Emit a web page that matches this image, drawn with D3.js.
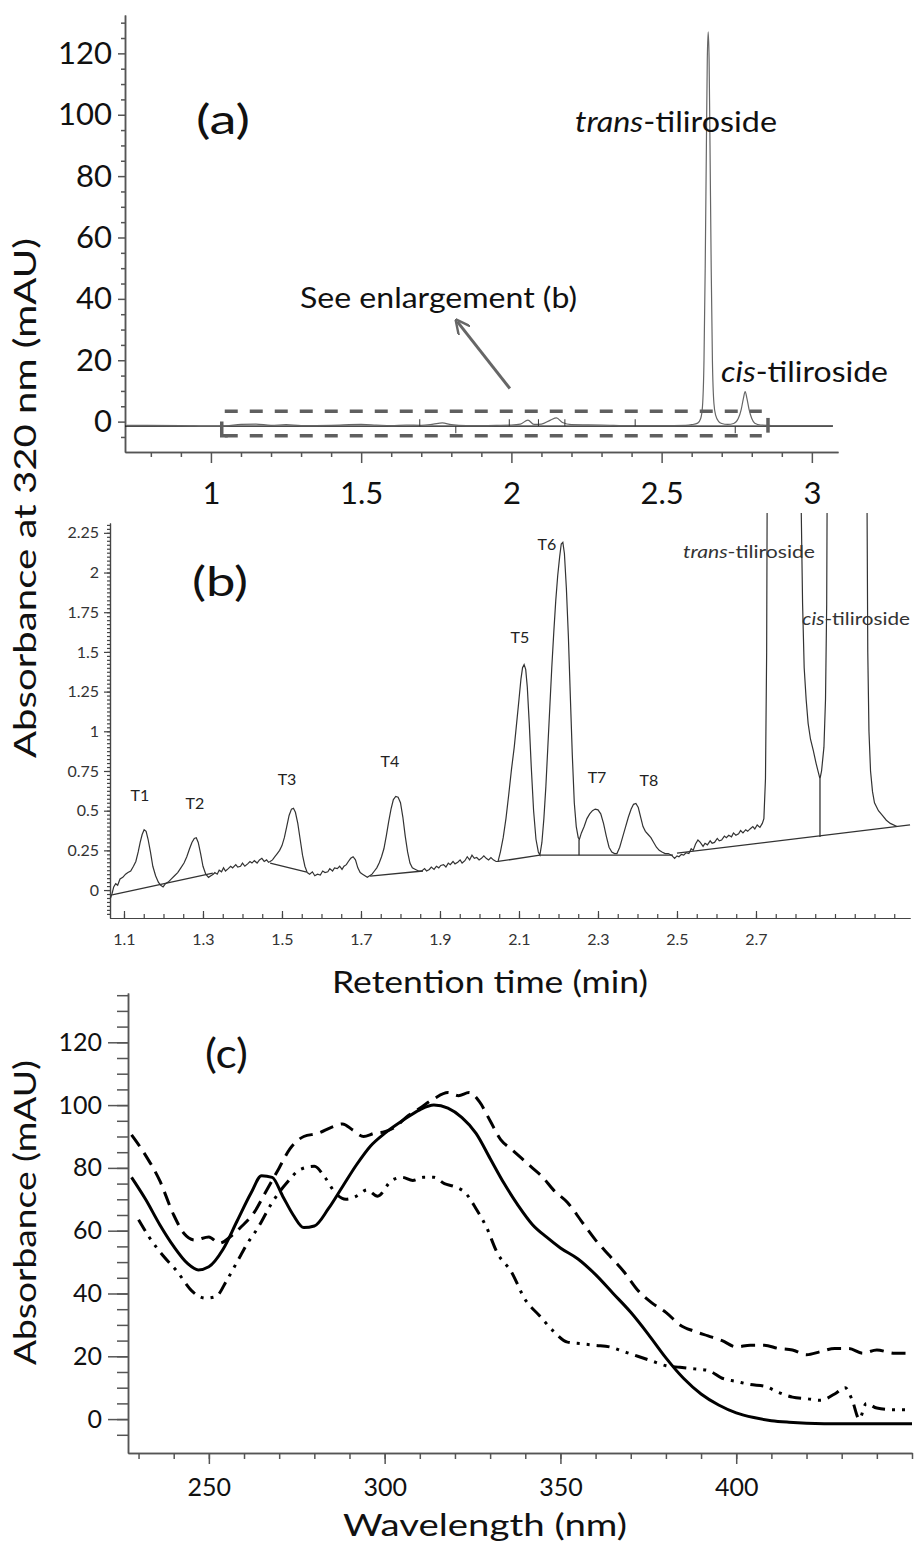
<!DOCTYPE html>
<html>
<head>
<meta charset="utf-8">
<script src="https://cdn.jsdelivr.net/npm/d3@7"></script>
<style>
  body { margin: 0; background: #fff; }
  text { font-family: Lato, "Open Sans", sans-serif; }
</style>
</head>
<body>
<div id="chart"></div>
<script>
// ---------- panel (a): full chromatogram ----------
const aTicksY = [0, 20, 40, 60, 80, 100, 120];
const aTicksX = [1, 1.5, 2, 2.5, 3];
const aTrace = [
  [0.72,-1.2],[0.9,-1.3],[1.0,-1.5],[1.05,-1.4],[1.1,-0.9],[1.15,-0.8],[1.2,-1.2],[1.25,-1.0],
  [1.3,-1.3],[1.4,-1.2],[1.5,-0.9],[1.55,-1.1],[1.6,-1.3],[1.65,-1.1],[1.7,-1.2],[1.74,-0.8],
  [1.77,-0.4],[1.8,-1.0],[1.85,-1.3],[1.95,-1.2],[2.0,-1.1],[2.03,-0.8],[2.055,0.5],[2.075,-0.9],
  [2.1,-0.8],[2.13,0.5],[2.15,1.2],[2.17,-0.3],[2.2,-1.0],[2.3,-1.1],[2.4,-1.3],[2.5,-1.3],
  [2.58,-1.2],[2.6,-1.0],[2.62,-0.5],[2.63,1],[2.636,5],[2.641,20],[2.645,50],[2.649,90],
  [2.652,118],[2.655,127],[2.658,118],[2.661,90],[2.665,50],[2.669,20],[2.674,6],[2.68,2],
  [2.69,0],[2.7,-0.6],[2.72,-0.9],[2.74,-0.6],[2.755,1],[2.765,4],[2.772,7.5],[2.778,9.8],
  [2.784,7.5],[2.791,4],[2.8,1],[2.81,-0.5],[2.83,-1.1],[2.9,-1.3],[3.07,-1.3]
];
const aBaseline = [[0.714,-1.5],[3.07,-1.5]];
const aMarks = [[1.695,1],[1.815,-1],[1.993,1],[2.09,1],[2.178,1],[2.412,1],[2.745,-1]];

// ---------- panel (b): enlargement ----------
const bTicksY = [0, 0.25, 0.5, 0.75, 1, 1.25, 1.5, 1.75, 2, 2.25];
const bTicksX = [1.1, 1.3, 1.5, 1.7, 1.9, 2.1, 2.3, 2.5, 2.7];
const bTrace = [
  [1.066,-0.05],[1.07,-0.02],[1.074,0.02],[1.079,0.04],[1.084,0.03],[1.09,0.07],[1.097,0.08],
  [1.104,0.1],[1.11,0.11],[1.117,0.12],[1.124,0.15],[1.13,0.18],[1.136,0.24],[1.141,0.3],
  [1.146,0.35],[1.151,0.38],[1.156,0.37],[1.161,0.32],[1.167,0.24],[1.173,0.15],[1.18,0.09],
  [1.187,0.05],[1.193,0.03],[1.199,0.02],[1.205,0.04],[1.212,0.05],[1.22,0.07],[1.228,0.09],
  [1.236,0.11],[1.244,0.14],[1.252,0.17],[1.259,0.21],[1.266,0.26],[1.272,0.3],[1.278,0.325],
  [1.283,0.33],[1.288,0.3],[1.294,0.23],[1.3,0.15],[1.307,0.1],[1.314,0.08],[1.32,0.09],
  [1.326,0.1],[1.33,0.11],[1.336,0.1],[1.341,0.125],[1.347,0.115],[1.352,0.14],[1.357,0.12],
  [1.364,0.135],[1.37,0.15],[1.375,0.14],[1.383,0.16],[1.388,0.145],[1.395,0.15],[1.4,0.17],
  [1.406,0.15],[1.413,0.165],[1.419,0.18],[1.424,0.17],[1.43,0.185],[1.437,0.17],[1.443,0.19],
  [1.449,0.2],[1.455,0.18],[1.461,0.19],[1.466,0.175],[1.47,0.18],[1.476,0.19],[1.482,0.21],
  [1.488,0.23],[1.494,0.25],[1.5,0.28],[1.506,0.33],[1.512,0.4],[1.518,0.47],[1.524,0.51],
  [1.529,0.515],[1.534,0.49],[1.54,0.42],[1.546,0.32],[1.552,0.22],[1.558,0.15],[1.564,0.11],
  [1.57,0.1],[1.577,0.115],[1.583,0.09],[1.59,0.1],[1.597,0.095],[1.603,0.12],[1.609,0.11],
  [1.616,0.115],[1.621,0.135],[1.628,0.12],[1.633,0.14],[1.64,0.135],[1.646,0.15],[1.652,0.13],
  [1.657,0.15],[1.663,0.16],[1.668,0.18],[1.674,0.2],[1.68,0.21],[1.686,0.19],[1.692,0.14],
  [1.698,0.11],[1.704,0.1],[1.71,0.09],[1.716,0.08],[1.722,0.09],[1.728,0.1],[1.734,0.12],
  [1.74,0.14],[1.746,0.17],[1.752,0.21],[1.758,0.26],[1.764,0.34],[1.77,0.43],[1.776,0.51],
  [1.782,0.57],[1.788,0.59],[1.794,0.585],[1.8,0.55],[1.806,0.46],[1.812,0.34],[1.818,0.24],
  [1.824,0.17],[1.83,0.14],[1.838,0.13],[1.846,0.12],[1.854,0.12],[1.861,0.135],[1.866,0.12],
  [1.873,0.13],[1.878,0.145],[1.885,0.13],[1.891,0.15],[1.897,0.14],[1.902,0.155],[1.909,0.16],
  [1.915,0.145],[1.921,0.17],[1.926,0.16],[1.933,0.18],[1.938,0.165],[1.945,0.175],[1.951,0.19],
  [1.956,0.17],[1.963,0.185],[1.969,0.21],[1.975,0.19],[1.981,0.22],[1.987,0.2],[1.993,0.205],
  [1.999,0.19],[2.005,0.2],[2.011,0.215],[2.017,0.2],[2.023,0.19],[2.029,0.205],[2.035,0.19],
  [2.042,0.18],[2.047,0.18],[2.053,0.24],[2.06,0.33],[2.067,0.45],[2.074,0.6],[2.081,0.76],
  [2.088,0.9],[2.094,1.05],[2.1,1.2],[2.105,1.33],[2.109,1.4],[2.113,1.42],[2.117,1.39],
  [2.121,1.28],[2.126,1.05],[2.131,0.78],[2.137,0.5],[2.143,0.32],[2.149,0.24],[2.153,0.22],
  [2.158,0.3],[2.163,0.45],[2.168,0.65],[2.173,0.9],[2.178,1.15],[2.183,1.4],[2.188,1.62],
  [2.193,1.82],[2.198,1.98],[2.203,2.1],[2.207,2.18],[2.211,2.19],[2.215,2.12],[2.22,1.9],
  [2.225,1.6],[2.23,1.22],[2.235,0.85],[2.24,0.55],[2.245,0.4],[2.25,0.33],[2.253,0.32],
  [2.258,0.36],[2.265,0.4],[2.272,0.45],[2.279,0.48],[2.286,0.5],[2.293,0.51],[2.3,0.505],
  [2.307,0.48],[2.314,0.42],[2.321,0.34],[2.328,0.27],[2.335,0.24],[2.342,0.23],[2.348,0.23],
  [2.355,0.27],[2.362,0.33],[2.37,0.4],[2.377,0.46],[2.384,0.51],[2.39,0.54],[2.396,0.545],
  [2.402,0.52],[2.408,0.46],[2.414,0.4],[2.42,0.37],[2.427,0.35],[2.434,0.33],[2.441,0.3],
  [2.448,0.27],[2.455,0.25],[2.462,0.24],[2.47,0.23],[2.478,0.23],[2.486,0.22],[2.494,0.2],
  [2.5,0.215],[2.505,0.21],[2.511,0.225],[2.517,0.22],[2.523,0.235],[2.53,0.23],[2.536,0.26],
  [2.541,0.25],[2.547,0.29],[2.553,0.315],[2.559,0.3],[2.566,0.275],[2.571,0.295],[2.577,0.285],
  [2.584,0.31],[2.589,0.295],[2.595,0.3],[2.602,0.325],[2.607,0.31],[2.613,0.315],[2.62,0.34],
  [2.625,0.33],[2.631,0.345],[2.638,0.335],[2.643,0.36],[2.649,0.345],[2.656,0.355],[2.661,0.375],
  [2.667,0.36],[2.674,0.38],[2.679,0.37],[2.685,0.385],[2.692,0.4],[2.697,0.385],[2.703,0.41],
  [2.71,0.395],[2.716,0.42],[2.72,0.45],[2.724,0.7],[2.727,1.5],[2.729,3.0],[2.731,6],
  [2.812,6],[2.8145,2.4],[2.818,1.8],[2.822,1.4],[2.827,1.2],[2.832,1.05],[2.838,0.95],
  [2.845,0.88],[2.852,0.8],[2.858,0.74],[2.862,0.7],[2.866,0.75],[2.872,0.9],[2.876,1.2],
  [2.879,1.8],[2.881,3],[2.883,6],[2.979,6],[2.981,2.5],[2.983,1.5],[2.986,1.0],[2.99,0.75],
  [2.995,0.62],[3.0,0.55],[3.01,0.5],[3.02,0.47],[3.03,0.44],[3.04,0.42],[3.057,0.4]
];
// integration baselines drawn by the instrument software
const bBaselines = [
  [[1.07,-0.03],[1.325,0.107]],
  [[1.47,0.17],[1.563,0.113]],
  [[1.723,0.088],[1.857,0.12]],
  [[2.047,0.18],[2.153,0.22]],
  [[2.153,0.22],[2.49,0.22]],
  [[2.252,0.22],[2.252,0.32]],
  [[2.5,0.233],[3.09,0.41]],
  [[2.862,0.334],[2.862,0.7]]
];
const bPeakNames = ['T1','T2','T3','T4','T5','T6','T7','T8'];
const bPeakLabelPos = [[1.1405,0.6],[1.2797,0.554],[1.5127,0.702],[1.7734,0.819],
                       [2.1025,1.594],[2.1709,2.186],[2.2975,0.718],[2.4291,0.699]];

// ---------- panel (c): UV spectra ----------
const cTicksY = [0, 20, 40, 60, 80, 100, 120];
const cTicksX = [250, 300, 350, 400];
const cSolid = [
  [228,77],[232,70],[236,62],[240,55],[244,49.5],[247,47.5],[250,48.5],[254,54],[258,63],
  [262,72],[265,77.5],[268,77],[271,71],[274,65],[277,61],[280,61.5],[284,67],[288,74],
  [292,81],[296,87],[300,91],[305,95],[310,98.5],[314,100],[318,99],[322,96],[326,91],
  [330,83],[334,75],[338,68],[342,62],[346,58],[350,54.5],[355,51],[360,46],[365,40],
  [370,34],[375,27],[380,19.5],[385,13],[390,8],[395,4.5],[400,2],[405,0.5],[410,-0.5],
  [415,-1],[420,-1.3],[430,-1.5],[440,-1.5],[450,-1.5]
];
const cDashed = [
  [228,90.5],[232,84],[236,76],[240,65],[243,59],[246,57],[250,58],[253,56],[256,58],
  [259,61],[263,66],[266,72],[270,80],[273,86],[277,90],[281,91],[285,93],[288,94],
  [291,92],[294,90],[297,91],[300,91.5],[303,93],[306,96],[310,99],[314,102],[318,104],
  [321,103],[324,104],[327,101],[330,95],[333,89],[336,86],[339,83],[342,80],[345,77],
  [348,73],[352,69],[356,63],[360,57],[364,52],[368,47],[372,41],[376,37],[380,34],
  [384,30],[388,28],[392,26.5],[396,25],[400,23],[404,23.5],[408,23.5],[412,22.5],
  [416,22],[420,20.5],[424,21.5],[428,22.5],[432,22.5],[436,21],[440,22],[445,21],[450,21]
];
const cDashDot = [
  [230,63.5],[233,58],[237,52],[241,47],[245,41],[249,38.5],[252,39],[255,44],[258,50],
  [261,56],[264,61],[268,69],[272,75],[276,79.5],[280,80.5],[283,77],[286,72],[289,70],
  [292,71],[295,73],[298,71],[302,76],[305,77],[308,76],[311,77],[314,77],[317,75],
  [320,74],[323,72],[326,67],[329,61],[332,53],[336,47],[340,38],[344,33],[348,28],
  [352,24.5],[356,24],[360,23.5],[364,23],[368,21.5],[372,20],[376,18.5],[380,17],
  [384,16.5],[388,16],[392,15.5],[396,13],[400,12],[404,11],[408,10.5],[412,8.5],
  [416,7],[420,6.5],[424,6],[428,8],[431,10],[433,6],[435,0],[437,5],[440,3.5],
  [445,3],[450,3]
];

const FONT = 'Lato, "Open Sans", sans-serif';
const svg = d3.select('#chart').append('svg')
  .attr('width', 922).attr('height', 1551)
  .style('background', '#fff');

// draws major + minor ticks of one axis
function drawAxis(parent, orient, scale, pos, major, minor, o) {
  const make = orient === 'left' ? d3.axisLeft : d3.axisBottom;
  const g = parent.append('g')
    .attr('transform', orient === 'left' ? 'translate(' + pos + ',0)' : 'translate(0,' + pos + ')');
  g.append('g').call(make(scale).tickValues(minor).tickSizeInner(o.minor).tickSizeOuter(0).tickFormat(''));
  const main = g.append('g').call(make(scale).tickValues(major).tickSizeInner(o.major)
    .tickSizeOuter(0).tickPadding(o.pad).tickFormat(o.fmt || (d => d)));
  g.selectAll('line,path').attr('stroke', o.color).attr('stroke-width', o.sw);
  main.selectAll('text').style('font-family', FONT).style('font-size', o.font + 'px')
    .attr('fill', o.text);
  return g;
}

function label(parent, txt, x, y, size, opts) {
  opts = opts || {};
  const t = parent.append('text').attr('x', x).attr('y', y)
    .style('font-size', size + 'px').attr('fill', opts.fill || '#111')
    .attr('text-anchor', opts.anchor || 'start');
  if (opts.italic) {
    t.append('tspan').style('font-style', 'italic').text(opts.italic);
    t.append('tspan').text(txt);
  } else t.text(txt);
  if (opts.len) t.attr('textLength', opts.len).attr('lengthAdjust', 'spacingAndGlyphs');
  if (opts.rotate) t.attr('transform', 'rotate(-90,' + x + ',' + y + ')');
  return t;
}

// ===== (a) =====
const ga = svg.append('g');
const ax = d3.scaleLinear().domain([0.714, 3.087]).range([125, 838]);
const ay = d3.scaleLinear().domain([-9.9, 132.5]).range([452, 15]);

drawAxis(ga, 'left', ay, 125, aTicksY, d3.range(-5, 131, 5).filter(v => v % 20 !== 0),
  { major: 7, minor: 4, pad: 6, color: '#555', sw: 1.5, font: 31, text: '#111' });
drawAxis(ga, 'bottom', ax, 452, aTicksX, d3.range(0.8, 3.05, 0.1).filter(v => Math.abs(v * 2 - Math.round(v * 2)) > 0.01),
  { major: 11, minor: 5, pad: 19, color: '#555', sw: 1.5, font: 31, text: '#111' });

const aLine = d3.line().x(d => ax(d[0])).y(d => ay(d[1]));
ga.append('path').datum(aBaseline).attr('d', aLine).attr('fill', 'none')
  .attr('stroke', '#111').attr('stroke-width', 1.2);
ga.append('path').datum(aTrace).attr('d', aLine.curve(d3.curveMonotoneX)).attr('fill', 'none')
  .attr('stroke', '#666').attr('stroke-width', 1.2);
ga.selectAll('.mark').data(aMarks).enter().append('line')
  .attr('x1', d => ax(d[0])).attr('x2', d => ax(d[0]))
  .attr('y1', ay(-1.5)).attr('y2', d => ay(-1.5) - d[1] * 7)
  .attr('stroke', '#333').attr('stroke-width', 1);

// dashed enlargement box
const box = { x0: 1.036, x1: 2.85, top: 3.4, bot: -4.6 };
const gray = '#5f5f5f';
[box.top, box.bot].forEach(v => {
  ga.append('line').attr('x1', ax(box.x0) + 3).attr('x2', ax(box.x1) - 5)
    .attr('y1', ay(v)).attr('y2', ay(v)).attr('stroke', gray).attr('stroke-width', 3.5)
    .attr('stroke-dasharray', '13,12');
});
ga.append('path').attr('d', 'M' + ax(box.x0) + ',' + ay(0) + 'V' + ay(box.bot) + 'h6')
  .attr('fill', 'none').attr('stroke', gray).attr('stroke-width', 3.5);
ga.append('line').attr('x1', ax(box.x1 + 0.004)).attr('x2', ax(box.x1 + 0.004))
  .attr('y1', ay(1.2)).attr('y2', ay(-3.6)).attr('stroke', gray).attr('stroke-width', 3.5);

// arrow
svg.append('defs').append('marker').attr('id', 'arr').attr('viewBox', '0 0 10 10')
  .attr('refX', 8).attr('refY', 5).attr('markerWidth', 5).attr('markerHeight', 5)
  .attr('orient', 'auto').append('path').attr('d', 'M0,0L10,5L0,10').attr('fill', 'none')
  .attr('stroke', '#666').attr('stroke-width', 1.6);
ga.append('line').attr('x1', ax(1.995)).attr('y1', ay(10.8)).attr('x2', ax(1.82)).attr('y2', ay(32.6))
  .attr('stroke', '#666').attr('stroke-width', 3).attr('marker-end', 'url(#arr)');

label(ga, '(a)', 196, 134, 40, { len: 54 });
label(ga, '-tiliroside', 575, 132, 28, { italic: 'trans', len: 202 });
label(ga, 'See enlargement (b)', 300, 308, 28, { len: 277 });
label(ga, '-tiliroside', 721, 382, 28, { italic: 'cis', len: 167 });
label(svg, 'Absorbance at 320 nm (mAU)', 36, 758, 31, { len: 520, rotate: true });

// ===== (b) =====
const gb = svg.append('g');
const bx = d3.scaleLinear().domain([1.0646, 3.0899]).range([110, 910]);
const by = d3.scaleLinear().domain([-0.176, 2.312]).range([918, 523]);

drawAxis(gb, 'left', by, 110, bTicksY, d3.range(-0.15, 2.32, 0.025),
  { major: 6, minor: 3, pad: 5, color: '#444', sw: 1.2, font: 16, text: '#333', fmt: d => d });
drawAxis(gb, 'bottom', bx, 918, bTicksX, d3.range(1.1, 3.09, 0.05),
  { major: -7, minor: -4, pad: 16, color: '#444', sw: 1.2, font: 16, text: '#333', fmt: d => d });

gb.append('clipPath').attr('id', 'clipb').append('rect')
  .attr('x', 110).attr('y', 513).attr('width', 802).attr('height', 405);
const bLine = d3.line().x(d => bx(d[0])).y(d => by(d[1]));
const bPlot = gb.append('g').attr('clip-path', 'url(#clipb)');
bPlot.append('path').datum(bTrace).attr('d', bLine).attr('fill', 'none')
  .attr('stroke', '#333').attr('stroke-width', 1.2);
bPlot.selectAll('.bl').data(bBaselines).enter().append('path').attr('d', bLine)
  .attr('fill', 'none').attr('stroke', '#333').attr('stroke-width', 1.3);

gb.selectAll('.pk').data(bPeakNames).enter().append('text')
  .attr('x', (d, i) => bx(bPeakLabelPos[i][0])).attr('y', (d, i) => by(bPeakLabelPos[i][1]))
  .attr('text-anchor', 'middle').attr('dominant-baseline', 'central')
  .style('font-size', '16px').attr('fill', '#222').text(d => d);

label(gb, '(b)', 192, 596, 40, { len: 56 });
label(gb, '-tiliroside', 683, 558, 17, { italic: 'trans', len: 132, fill: '#333' });
label(gb, '-tiliroside', 802, 625, 17, { italic: 'cis', len: 108, fill: '#333' });
label(gb, 'Retention time (min)', 332, 993, 31, { len: 316 });

// ===== (c) =====
const gc = svg.append('g');
const cx = d3.scaleLinear().domain([227, 450]).range([128, 912]);
const cy = d3.scaleLinear().domain([-10.8, 135.7]).range([1453, 993]);

drawAxis(gc, 'left', cy, 128, cTicksY, d3.range(-5, 136, 5),
  { major: 20, minor: 11, pad: 6, color: '#555', sw: 1.5, font: 25, text: '#111' });
drawAxis(gc, 'bottom', cx, 1453, cTicksX, d3.range(230, 451, 10),
  { major: 11, minor: 6, pad: 14, color: '#555', sw: 1.5, font: 25, text: '#111' });

const cLine = d3.line().x(d => cx(d[0])).y(d => cy(d[1])).curve(d3.curveMonotoneX);
const series = [
  { data: cSolid, dash: null },
  { data: cDashed, dash: '14,8' },
  { data: cDashDot, dash: '13,7,3,7,3,7' }
];
gc.selectAll('.spec').data(series).enter().append('path')
  .attr('d', d => cLine(d.data)).attr('fill', 'none').attr('stroke', '#000')
  .attr('stroke-width', 3).attr('stroke-dasharray', d => d.dash);

label(gc, '(c)', 205, 1068, 40, { len: 43 });
label(svg, 'Absorbance  (mAU)', 36, 1365, 31, { len: 305, rotate: true });
label(gc, 'Wavelength (nm)', 343, 1536, 31, { len: 284 });
</script>
</body>
</html>
